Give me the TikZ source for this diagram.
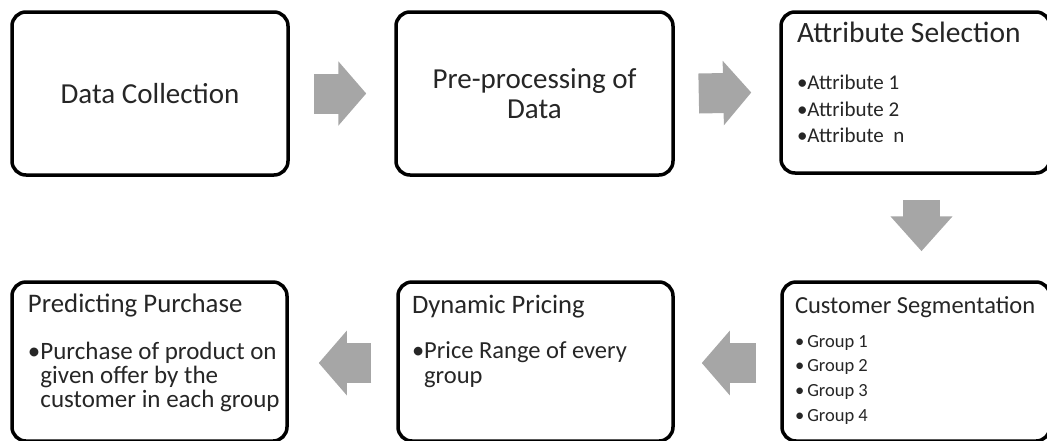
\documentclass[tikz,border=0pt]{standalone}
\usepackage{fontspec}
\setmainfont{Carlito}
\usetikzlibrary{arrows.meta}

\newcommand{\fs}[2]{\fontsize{#1}{#2}\selectfont}
% bullet line with hanging indent
\newcommand{\pitem}[1]{\par\setbox0=\hbox{•}\hangindent=\wd0\hangafter=1\noindent\box0\relax #1\par}
% box text: width, height, left pad, content (top left)
\newcommand{\boxtext}[4]{\makebox[#1][l]{\hspace*{#3}\parbox[c][#2][t]{\dimexpr#1-#3\relax}{\raggedright #4}}}

\begin{document}
\begin{tikzpicture}[x=1pt, y=-1pt,
    stepbox/.style={draw=black, line width=3.5pt, rounded corners=14pt, fill=white, text=black!85, inner sep=0pt},
    blockarrow/.style={draw=black!35, line width=40pt, -{Triangle[length=28pt, width=63pt]}}]
    \useasboundingbox (0,0) rectangle (1047,440);
    \clip (0,0) rectangle (1047,440);

    % Top row
    \node[stepbox, minimum width=276pt, minimum height=163pt, align=center, font={\fs{29pt}{30pt}}] (dc) at (150,93.5) {Data Collection};

    \node[stepbox, minimum width=277pt, minimum height=163pt, align=center, font={\fs{29pt}{30pt}}] (pp) at (534.5,93.5) {Pre-processing of\\Data};

    \node[stepbox] (as) at (915.5,92.5) {\boxtext{269pt}{161pt}{16pt}{%
        \fs{29.5pt}{30pt}\rule{0pt}{30pt}Attribute Selection\par
        \vspace{21pt}\fs{21pt}{26.5pt}
        \pitem{Attribute 1}\pitem{Attribute 2}\pitem{Attribute~~n}}};

    % Bottom row
    \node[stepbox] (cs) at (916,361.5) {\boxtext{268pt}{159pt}{13pt}{%
        \fs{24.5pt}{26pt}\rule{0pt}{31pt}Customer Segmentation\par
        \vspace{9.3pt}\fs{18.5pt}{24.7pt}
        \pitem{\,Group 1}\pitem{\,Group 2}\pitem{\,Group 3}\pitem{\,Group 4}}};

    \node[stepbox] (dp) at (535.5,361.5) {\boxtext{275pt}{159pt}{14pt}{%
        \fs{26.6pt}{28pt}\rule{0pt}{31pt}Dynamic Pricing\par
        \vspace{20pt}\fs{24.5pt}{25pt}
        \pitem{Price Range of every\newline group}}};

    \node[stepbox] (pu) at (149.5,361.5) {\boxtext{275pt}{159pt}{16pt}{%
        \fs{26.8pt}{28pt}\rule{0pt}{30pt}Predicting Purchase\par
        \vspace{23pt}\fs{25pt}{24pt}
        \pitem{Purchase of product on\newline given offer by the\newline customer in each group}}};

    % Block arrows
    \draw[blockarrow] ([xshift=24pt]dc.east) -- ([xshift=-28pt]pp.west);
    \draw[blockarrow] ([xshift=24pt]pp.east) -- ([xshift=-28pt]as.west);
    \draw[blockarrow, line width=37pt, -{Triangle[length=35pt, width=60pt]}] ([xshift=6pt, yshift=-25pt]as.south) -- ([xshift=5.5pt, yshift=29pt]cs.north);
    \draw[blockarrow] ([xshift=-24pt, yshift=-1.5pt]cs.west) -- ([xshift=27pt, yshift=-1.5pt]dp.east);
    \draw[blockarrow] ([xshift=-25pt, yshift=-1.5pt]dp.west) -- ([xshift=30pt, yshift=-1.5pt]pu.east);
\end{tikzpicture}
\end{document}
